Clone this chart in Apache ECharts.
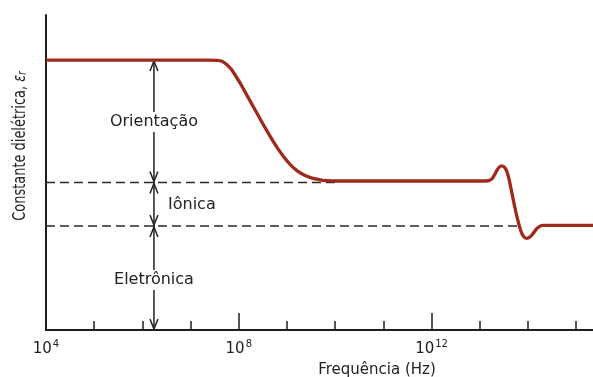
<!DOCTYPE html>
<html>
<head>
<meta charset="utf-8">
<script src="https://cdn.jsdelivr.net/npm/echarts@6/dist/echarts.min.js"></script>
<style>
html,body{margin:0;padding:0;background:#fff;}
#c{width:593px;height:377px;}
</style>
</head>
<body>
<div id="c"></div>
<script>
// log10 of frequency (Hz) and relative dielectric constant (arbitrary units)
var freqLog = [4.0, 7.35, 7.548, 7.755, 7.963, 8.170, 8.378, 8.585, 8.793, 9.000, 9.207, 9.415, 9.622, 9.830, 10.037, 10.4,
               13.129, 13.232, 13.315, 13.378, 13.454, 13.523, 13.585, 13.647, 13.710, 13.772, 13.834, 13.896, 13.969, 14.041, 14.124, 14.207, 14.311, 14.6, 15.35];
var epsilon = [8.57, 8.57, 8.56, 8.42, 8.00, 7.45, 6.88, 6.32, 5.80, 5.37, 5.06, 4.88, 4.79, 4.74, 4.73, 4.73,
               4.73, 4.77, 4.95, 5.12, 5.21, 5.15, 4.92, 4.50, 4.03, 3.60, 3.24, 3.00, 2.91, 2.95, 3.10, 3.25, 3.32, 3.32, 3.32];

// dashed reference levels: [level, end frequency (log10)]
var levelValues = [4.68, 3.30];
var levelEnds = [10.0, 13.82];

// double arrows: x (log10 f), from, to
var arrowX = 6.24;
var arrowFrom = [8.57, 4.68, 3.30];
var arrowTo = [4.68, 3.30, 0];

// annotations
var annoNames = ['Orientação', 'Iônica', 'Eletrônica'];
var annoX = [6.24, 6.49, 6.24];
var annoY = [6.60, 3.97, 1.59];
var annoAlign = ['center', 'left', 'center'];

// ticks (log10 of frequency)
var minorTicks = [4, 5, 6, 7, 8, 9, 10, 11, 12, 13, 14, 15];
var labelExps = [4, 8, 12];

var xMin = 4, xMax = 15.35, yMin = 0, yMax = 10;

var curve = freqLog.map(function (f, i) { return [f, epsilon[i]]; });
var arrows = arrowFrom.map(function (a, i) { return [arrowX, a, arrowTo[i]]; });
var annos = annoNames.map(function (n, i) { return [annoX[i], annoY[i], i]; });

var dashSeries = levelValues.map(function (v, i) {
  return {
    type: 'line', xAxisIndex: 0, yAxisIndex: 0, z: 2,
    data: [[xMin, v], [levelEnds[i], v]],
    showSymbol: false, silent: true,
    lineStyle: { color: '#2a2a2a', width: 1.5, type: [9, 5] }
  };
});

var chart = echarts.init(document.getElementById('c'), null, { renderer: 'canvas' });
chart.setOption({
  animation: false,
  backgroundColor: '#fff',
  grid: { left: 46, right: 0, top: 15, bottom: 47 },
  xAxis: [
    {
      type: 'value', min: xMin, max: xMax,
      splitLine: { show: false },
      axisLine: { show: true, lineStyle: { color: '#1e1e1e', width: 2 } },
      axisTick: { show: true, inside: true, length: 9, customValues: minorTicks, lineStyle: { color: '#1e1e1e', width: 1.5 } },
      axisLabel: { show: false }
    },
    {
      type: 'value', min: xMin, max: xMax, position: 'bottom',
      splitLine: { show: false },
      axisLine: { show: false },
      axisTick: { show: true, inside: true, length: 17, customValues: labelExps, lineStyle: { color: '#1e1e1e', width: 1.5 } },
      axisLabel: {
        show: true, customValues: labelExps, margin: 9,
        formatter: function (v) { return '{b|10}{s|' + v + '}'; },
        rich: {
          b: { fontSize: 15, fontFamily: 'DejaVu Sans', color: '#222', lineHeight: 18, verticalAlign: 'bottom' },
          s: { fontSize: 10, fontFamily: 'DejaVu Sans', color: '#222', lineHeight: 18, verticalAlign: 'top', padding: [0, 0, 0, 1] }
        }
      }
    }
  ],
  yAxis: {
    type: 'value', min: yMin, max: yMax,
    splitLine: { show: false },
    axisLine: { show: true, lineStyle: { color: '#1e1e1e', width: 2 } },
    axisTick: { show: false },
    axisLabel: { show: false }
  },
  graphic: [
    {
      type: 'text', x: 20, y: 146, rotation: Math.PI / 2, scaleX: 0.8, scaleY: 1,
      style: {
        text: 'Constante dielétrica, {e|ε}{r|r}',
        font: '18px "DejaVu Sans Condensed", sans-serif',
        fill: '#222', align: 'center', verticalAlign: 'middle',
        rich: {
          e: { font: 'italic 18px "DejaVu Sans Condensed", sans-serif', fill: '#222' },
          r: { font: 'italic 12px "DejaVu Sans Condensed", sans-serif', fill: '#222', padding: [6, 0, 0, 0] }
        }
      }
    },
    {
      type: 'text', x: 377, y: 370,
      style: {
        text: 'Frequência (Hz)', font: '15px "DejaVu Sans", sans-serif',
        fill: '#222', align: 'center', verticalAlign: 'middle'
      }
    }
  ],
  series: dashSeries.concat([
    {
      type: 'custom', xAxisIndex: 0, yAxisIndex: 0, z: 3, silent: true,
      data: arrows,
      renderItem: function (params, api) {
        var a = api.coord([api.value(0), api.value(1)]);
        var b = api.coord([api.value(0), api.value(2)]);
        var x = a[0];
        var top = Math.min(a[1], b[1]), bot = Math.max(a[1], b[1]);
        var st = { stroke: '#222', lineWidth: 1.5, fill: null };
        return {
          type: 'group',
          children: [
            { type: 'line', shape: { x1: x, y1: top, x2: x, y2: bot }, style: st },
            { type: 'polyline', shape: { points: [[x - 4, top + 11], [x, top + 1], [x + 4, top + 11]] }, style: st },
            { type: 'polyline', shape: { points: [[x - 4, bot - 11], [x, bot - 1], [x + 4, bot - 11]] }, style: st }
          ]
        };
      }
    },
    {
      type: 'line', xAxisIndex: 0, yAxisIndex: 0, z: 4,
      data: curve, showSymbol: false, silent: true,
      smooth: 0.5,
      lineStyle: { color: '#9e2a1c', width: 3.3 }
    },
    {
      type: 'custom', xAxisIndex: 0, yAxisIndex: 0, z: 5, silent: true,
      data: annos,
      renderItem: function (params, api) {
        var p = api.coord([api.value(0), api.value(1)]);
        var i = api.value(2);
        return {
          type: 'text', x: p[0], y: p[1],
          style: {
            text: annoNames[i], font: '16px "DejaVu Sans", sans-serif', fill: '#222',
            align: annoAlign[i], verticalAlign: 'middle',
            backgroundColor: annoAlign[i] === 'center' ? '#fff' : null, padding: [2, 2]
          }
        };
      }
    }
  ])
});
</script>
</body>
</html>
